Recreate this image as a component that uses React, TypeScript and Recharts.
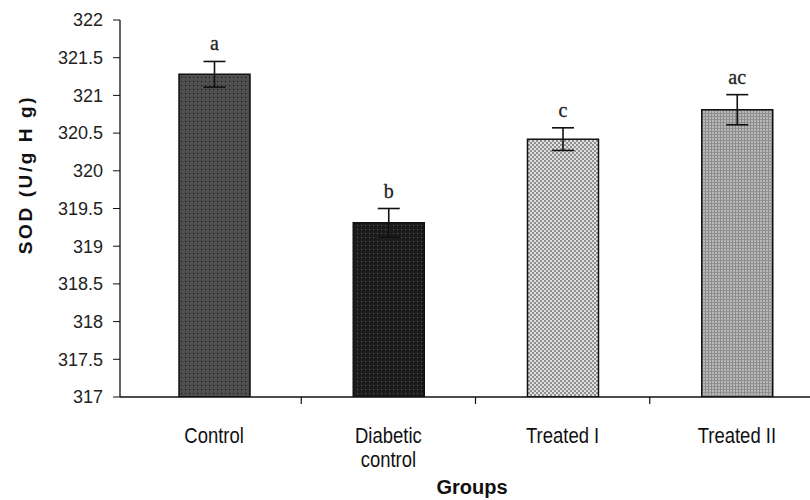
import React from 'react'
import {
  BarChart,
  Bar,
  XAxis,
  YAxis,
  ErrorBar,
  LabelList,
  Label,
  Cell,
} from 'recharts'

const groups = ['Control', 'Diabetic control', 'Treated I', 'Treated II']
const sodValues = [321.28, 319.31, 320.42, 320.81]
const sodErrors = [0.17, 0.19, 0.15, 0.2]
const letters = ['a', 'b', 'c', 'ac']
const yTicks = [317, 317.5, 318, 318.5, 319, 319.5, 320, 320.5, 321, 321.5, 322]
const fills = ['url(#patCtrl)', 'url(#patDiab)', 'url(#patT1)', 'url(#patT2)']

const data = groups.map((g, i) => ({
  name: g,
  sod: sodValues[i],
  err: sodErrors[i],
  letter: letters[i],
}))

const SANS = "'Liberation Sans', Arial, sans-serif"

// condensed category labels + Excel-style tick marks between categories
function GroupTick({ x, y, payload, index }: any) {
  const lines = payload.value === 'Diabetic control' ? ['Diabetic', 'control'] : [payload.value]
  const half = payload.offset || 0
  return (
    <g>
      {index < groups.length - 1 && half > 0 && (
        <line x1={x + half} x2={x + half} y1={y - 8} y2={y - 1} stroke="#111" strokeWidth={1.2} />
      )}
      <g transform={`translate(${x},${y}) scale(0.84,1)`}>
        <text x={0} y={0} textAnchor="middle" fontFamily={SANS} fontSize={22} fill="#111">
          {lines.map((l: string, i: number) => (
            <tspan key={i} x={0} dy={i === 0 ? 38 : 24}>
              {l}
            </tspan>
          ))}
        </text>
      </g>
    </g>
  )
}

function LetterLabel(props: any) {
  const { x, y, width, height, index } = props
  const v = sodValues[index]
  const pxPerUnit = height / (v - 317)
  const errTop = y - sodErrors[index] * pxPerUnit
  return (
    <text
      x={x + width / 2}
      y={errTop - 11}
      textAnchor="middle"
      fontFamily="'Liberation Serif', 'Times New Roman', serif"
      fontSize={20}
      fill="#222"
      stroke="#222"
      strokeWidth={0.3}
    >
      {letters[index]}
    </text>
  )
}

function GroupsTitle({ viewBox }: any) {
  return (
    <text
      x={viewBox.x + viewBox.width / 2 + 7}
      y={viewBox.y + 97}
      textAnchor="middle"
      fontFamily={SANS}
      fontWeight="bold"
      fontSize={20}
      fill="#111"
    >
      Groups
    </text>
  )
}

function SodTitle({ viewBox }: any) {
  const cx = 25
  const cy = viewBox.y + viewBox.height / 2 - 34
  return (
    <text
      x={cx}
      y={cy}
      transform={`rotate(-90, ${cx}, ${cy})`}
      textAnchor="middle"
      dominantBaseline="central"
      fontFamily={SANS}
      fontWeight="bold"
      fontSize={19}
      letterSpacing={2.6}
      fill="#111"
    >
      SOD (U/g H g)
    </text>
  )
}

export default function App() {
  return (
    <div style={{ position: 'absolute', left: 0, top: 0, background: '#fff' }}>
      <BarChart
        width={810}
        height={500}
        data={data}
        margin={{ top: 20, right: 0, bottom: 43, left: 0 }}
        barCategoryGap={0}
      >
        <defs>
          <pattern id="patCtrl" width="4" height="4" patternUnits="userSpaceOnUse">
            <rect width="4" height="4" fill="#4f4f4f" />
            <rect x="1" y="1" width="1" height="1" fill="#111" />
          </pattern>
          <pattern id="patDiab" width="4" height="4" patternUnits="userSpaceOnUse">
            <rect width="4" height="4" fill="#1c1c1c" />
            <rect x="1" y="1" width="1" height="1" fill="#5a5a5a" />
          </pattern>
          <pattern id="patT1" width="4" height="4" patternUnits="userSpaceOnUse">
            <rect width="4" height="4" fill="#e0e0e0" />
            <rect x="0" y="0" width="2" height="2" fill="#8f8f8f" />
            <rect x="2" y="2" width="2" height="2" fill="#8f8f8f" />
          </pattern>
          <pattern id="patT2" width="3" height="3" patternUnits="userSpaceOnUse">
            <rect width="3" height="3" fill="#b8b8b8" />
            <rect x="0" y="0" width="1" height="3" fill="#8a8a8a" />
            <rect x="0" y="2" width="3" height="1" fill="#909090" />
          </pattern>
        </defs>
        <XAxis
          dataKey="name"
          padding={{ left: 7, right: -14 }}
          tick={<GroupTick />}
          tickLine={false}
          axisLine={{ stroke: '#111', strokeWidth: 1.3 }}
          height={60}
          interval={0}
        >
          <Label content={<GroupsTitle />} />
        </XAxis>
        <YAxis
          type="number"
          domain={[317, 322]}
          ticks={yTicks}
          width={120}
          tickSize={7}
          tickMargin={10}
          tickLine={{ stroke: '#111' }}
          axisLine={{ stroke: '#111', strokeWidth: 1.3 }}
          tick={{ fontFamily: SANS, fontSize: 18, fill: '#222' }}
          allowDataOverflow
        >
          <Label content={<SodTitle />} />
        </YAxis>
        <Bar
          dataKey="sod"
          barSize={71}
          stroke="#111"
          strokeWidth={1.5}
          isAnimationActive={false}
        >
          {data.map((_, i) => (
            <Cell key={i} fill={fills[i]} />
          ))}
          <ErrorBar dataKey="err" width={11} stroke="#111" strokeWidth={1.6} />
          <LabelList dataKey="letter" content={<LetterLabel />} />
        </Bar>
      </BarChart>
    </div>
  )
}
